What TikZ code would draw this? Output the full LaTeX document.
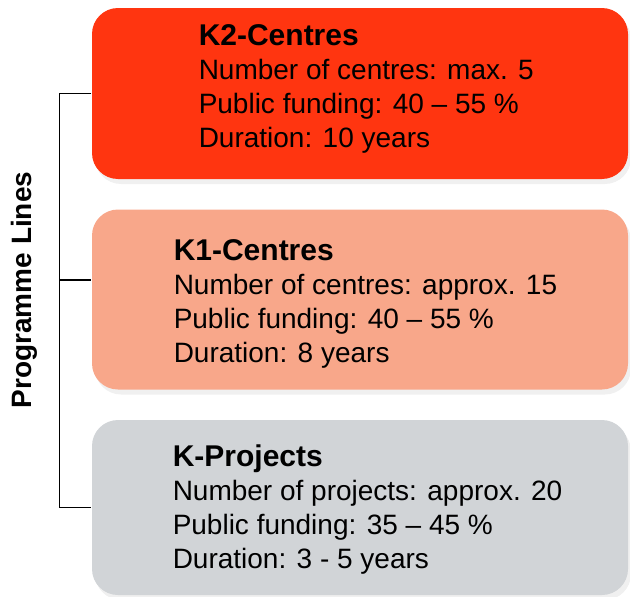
\documentclass[tikz,border=0pt]{standalone}
\usepackage{fontspec}
\setmainfont{Liberation Sans}
\usetikzlibrary{shadows}
\definecolor{kzwei}{RGB}{255,53,16}
\definecolor{keins}{RGB}{248,167,138}
\definecolor{kproj}{RGB}{209,212,215}
\begin{document}
\begin{tikzpicture}[x=1pt, y=-1pt, line width=1.5pt,
        linebox/.style={rectangle, rounded corners=26pt, minimum width=536pt, draw=none,
            drop shadow={shadow xshift=3pt, shadow yshift=-5pt, opacity=0.12}},
        info/.style={anchor=base west, align=left, inner sep=0pt,
            font=\fontsize{28}{34}\selectfont}]
    \useasboundingbox (0,0) rectangle (630,597);
    \node[linebox, fill=kzwei, minimum height=171pt] (k2) at (360,93.5) {};
    \node[linebox, fill=keins, minimum height=180pt] (k1) at (360,299.5) {};
    \node[linebox, fill=kproj, minimum height=175pt] (kp) at (360,507.5) {};
    % base anchor sits on the last line
    \node[info] (k2txt) at (198,147) {{\fontsize{30}{34}\selectfont\bfseries K2-Centres}\\
        Number of centres: max. 5\\ Public funding: 40 -- 55 \%\\ Duration: 10 years};
    \node[info] (k1txt) at (173,362) {{\fontsize{30}{34}\selectfont\bfseries K1-Centres}\\
        Number of centres: approx. 15\\ Public funding: 40 -- 55 \%\\ Duration: 8 years};
    \node[info] (kptxt) at (172,568) {{\fontsize{30}{34}\selectfont\bfseries K-Projects}\\
        Number of projects: approx. 20\\ Public funding: 35 -- 45 \%\\ Duration: 3 - 5 years};
    \node[rotate=90, font=\fontsize{28}{34}\selectfont\bfseries] (lines) at (24,290) {Programme Lines};
    \coordinate (midtick) at (60,280);
    \draw (k2.west) -- ++(-32,0) |- (kp.west);
    \draw (midtick) -- (k1.west |- midtick);
\end{tikzpicture}
\end{document}
